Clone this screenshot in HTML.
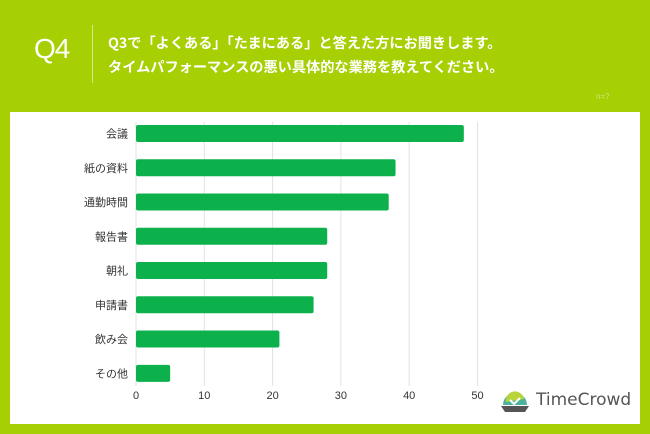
<!DOCTYPE html>
<html><head><meta charset="utf-8"><style>
body{margin:0;width:650px;height:434px;background:#a6cf04;overflow:hidden;font-family:"Liberation Sans","Noto Sans CJK JP",sans-serif;position:relative}
.q4{position:absolute;left:34px;top:33px;font-size:28px;color:#fff;font-weight:300;letter-spacing:-1px}
.div{position:absolute;left:92px;top:25px;width:1px;height:58px;background:#d4e98a}
.title{position:absolute;left:108px;top:31px;color:#fff;font-weight:bold;font-size:14.2px;line-height:24px;font-family:"Noto Sans CJK JP",sans-serif;white-space:nowrap}
.n{position:absolute;left:596px;top:92px;color:#cde57a;font-size:8px}
.panel{position:absolute;left:10px;top:112px;width:630px;height:312px;background:#fff}
</style></head><body>
<div class="q4">Q4</div>
<div class="div"></div>
<div class="title">Q3で「よくある」「たまにある」と答えた方にお聞きします。<br>タイムパフォーマンスの悪い具体的な業務を教えてください。</div>
<div class="n">n=?</div>
<div class="panel"></div>
<svg id="chart" width="650" height="434" style="position:absolute;left:0;top:0"></svg>
<div style="position:absolute;left:500px;top:388px">
<svg width="30" height="26"><path d="M3 17 A12 12 0 0 1 27 17 Z" fill="#4cb39a"/><path d="M6 14 A9 9 0 0 1 24 11" fill="#b9d43a"/><path d="M1 18 L29 18 L25 24 L5 24Z" fill="#555"/><path d="M10 12 L14 16 L20 10" stroke="#fff" stroke-width="2" fill="none"/></svg>
<span style="position:absolute;left:36px;top:2px;font-size:17px;color:#555;white-space:nowrap;font-family:'DejaVu Sans',sans-serif">TimeCrowd</span></div>
<script>
const categories=["会議","紙の資料","通勤時間","報告書","朝礼","申請書","飲み会","その他"];
const values=[48,38,37,28,28,26,21,5];
const ticks=[0,10,20,30,40,50];
const svg=document.getElementById('chart');const NS='http://www.w3.org/2000/svg';
const x=v=>136+v*6.83;const y=i=>133.5+i*34.26;
function mk(t,a){const e=document.createElementNS(NS,t);for(const k in a)e.setAttribute(k,a[k]);svg.appendChild(e);return e;}
ticks.forEach(t=>{
const l=mk('line',{x1:x(t),x2:x(t),y1:122,y2:386,stroke:'#e2e2e2','stroke-width':1});


const tx=mk('text',{x:x(t),y:399,'text-anchor':'middle','font-size':11,fill:'#333'});tx.textContent=t;


});
categories.forEach((c,i)=>{
const r=mk('rect',{x:x(0),y:y(i)-8.5,width:x(values[i])-x(0),height:17,fill:'#0db14b',rx:2});


const t=mk('text',{x:128,y:y(i)+4,'text-anchor':'end','font-size':11,fill:'#333'});t.textContent=c;


});
</script>
</body></html>
